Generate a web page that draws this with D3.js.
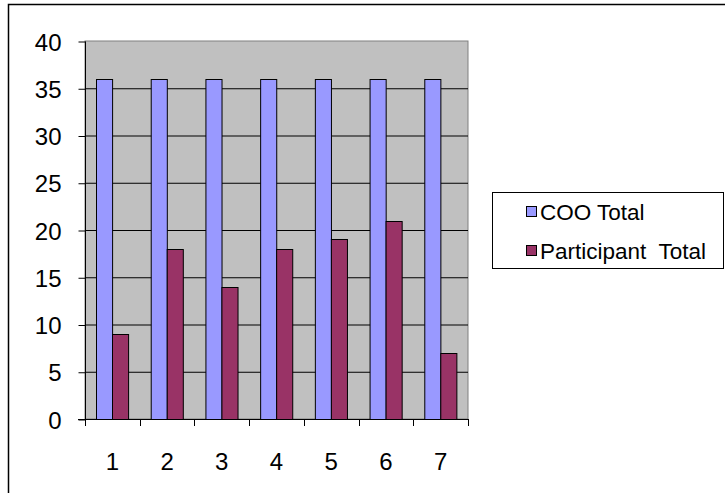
<!DOCTYPE html>
<html>
<head>
<meta charset="utf-8">
<script src="https://cdn.jsdelivr.net/npm/d3@7"></script>
<style>
  body { margin: 0; background: #fff; }
  svg { display: block; font-family: "Liberation Sans", Arial, sans-serif; }
</style>
</head>
<body>
<svg></svg>
<script>
const categories = ["1", "2", "3", "4", "5", "6", "7"];
const coo_total = [36, 36, 36, 36, 36, 36, 36];
const participant_total = [9, 18, 14, 18, 19, 21, 7];
const series_names = ["COO Total", "Participant  Total"];
const y_ticks = [0, 5, 10, 15, 20, 25, 30, 35, 40];

const colors = ["#9999ff", "#993366"];

const width = 725, height = 493;
const plot = { left: 85, right: 468, top: 41, bottom: 419 };

const svg = d3.select("svg").attr("width", width).attr("height", height);

// outer chart border (only top/left visible in frame)
svg.append("rect")
    .attr("x", 8.5).attr("y", 4.5)
    .attr("width", width + 20).attr("height", height + 20)
    .attr("fill", "#fff")
    .attr("stroke", "#000")
    .attr("stroke-width", 1.5);

const x_scale = d3.scaleBand()
    .domain(categories)
    .range([plot.left, plot.right]);

const x_inner = d3.scaleBand()
    .domain(series_names)
    .range([0, x_scale.bandwidth()])
    .paddingOuter(0.7);

const y_scale = d3.scaleLinear()
    .domain([0, 40])
    .range([plot.bottom, plot.top]);

// plot area background
svg.append("rect")
    .attr("x", plot.left).attr("y", plot.top)
    .attr("width", plot.right - plot.left)
    .attr("height", plot.bottom - plot.top)
    .attr("fill", "#c0c0c0")
    .attr("stroke", "#808080")
    .attr("stroke-width", 1);

// gridlines
svg.append("g")
    .selectAll("line")
    .data(y_ticks.filter(d => d > 0 && d < 40))
    .join("line")
    .attr("x1", plot.left).attr("x2", plot.right)
    .attr("y1", d => y_scale(d) + 0.5).attr("y2", d => y_scale(d) + 0.5)
    .attr("stroke", "#000")
    .attr("stroke-width", 1);

// bars
const rows = categories.map((c, i) => ({ c, values: [coo_total[i], participant_total[i]] }));

svg.append("g")
    .selectAll("g")
    .data(rows)
    .join("g")
    .attr("transform", d => `translate(${x_scale(d.c)},0)`)
    .selectAll("rect")
    .data(d => d.values.map((v, j) => ({ name: series_names[j], v, j })))
    .join("rect")
    .attr("x", d => Math.round(x_inner(d.name)) + 0.5)
    .attr("y", d => Math.round(y_scale(d.v)) + 0.5)
    .attr("width", x_inner.bandwidth())
    .attr("height", d => plot.bottom - Math.round(y_scale(d.v)))
    .attr("fill", d => colors[d.j])
    .attr("stroke", "#000")
    .attr("stroke-width", 1);

// y axis
const y_axis = d3.axisLeft(y_scale)
    .tickValues(y_ticks)
    .tickSize(7)
    .tickPadding(17);

svg.append("g")
    .attr("transform", `translate(${plot.left + 0.5},0.5)`)
    .call(y_axis)
    .call(g => g.select(".domain").attr("d", `M0,${plot.top}V${plot.bottom}`))
    .call(g => g.selectAll("text").style("font-size", "24px").attr("fill", "#000").attr("dy", "0.36em"))
    .call(g => g.selectAll("line, path").attr("stroke", "#000"));

// x axis
const x_axis = d3.axisBottom(x_scale).tickSize(0).tickPadding(33);

svg.append("g")
    .attr("transform", `translate(0,${plot.bottom + 0.5})`)
    .call(x_axis)
    .call(g => g.select(".domain").attr("d", `M${plot.left - 7},0H${plot.right}`).attr("stroke", "#000"))
    .call(g => g.selectAll("text").style("font-size", "24px").attr("fill", "#000"));

// x tick marks at category boundaries
svg.append("g")
    .selectAll("line")
    .data(categories.concat(["end"]))
    .join("line")
    .attr("x1", (d, i) => Math.round(plot.left + i * x_scale.bandwidth()) + 0.5)
    .attr("x2", (d, i) => Math.round(plot.left + i * x_scale.bandwidth()) + 0.5)
    .attr("y1", plot.bottom)
    .attr("y2", plot.bottom + 7)
    .attr("stroke", "#000");

// legend
const legend = svg.append("g");
legend.append("rect")
    .attr("x", 492.5).attr("y", 192.5)
    .attr("width", 231).attr("height", 76)
    .attr("fill", "#fff")
    .attr("stroke", "#000")
    .attr("stroke-width", 1);

const items = legend.selectAll("g.item")
    .data(series_names)
    .join("g")
    .attr("class", "item")
    .attr("transform", (d, i) => `translate(526,${212 + i * 39})`);

items.append("rect")
    .attr("x", 0.5).attr("y", -5.5)
    .attr("width", 10).attr("height", 10)
    .attr("fill", (d, i) => colors[i])
    .attr("stroke", "#000");

items.append("text")
    .attr("x", 14)
    .attr("y", 0)
    .attr("dy", "0.36em")
    .style("font-size", "22.5px")
    .style("white-space", "pre")
    .attr("fill", "#000")
    .text(d => d);
</script>
</body>
</html>
